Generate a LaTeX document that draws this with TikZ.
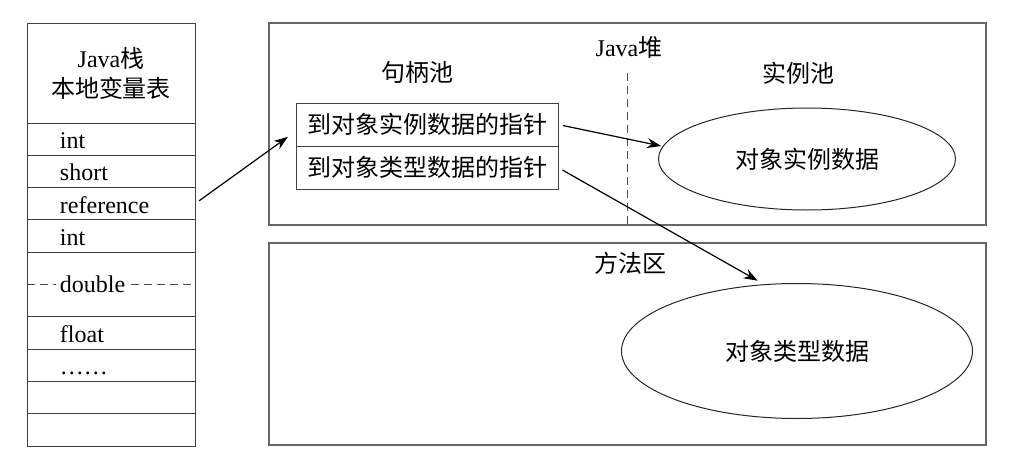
\documentclass[tikz,border=0pt]{standalone}
\usepackage{fontspec}
\setmainfont{Liberation Serif}
\newfontfamily\cjk{Noto Sans CJK SC}
\usetikzlibrary{positioning,shapes.geometric,arrows.meta}
\begin{document}
\begin{tikzpicture}[x=0.5pt, y=-0.5pt, font=\fontsize{12}{15}\selectfont,
  every node/.style={outer sep=0pt},
  head/.style={draw=black!75, line width=0.5pt, minimum width=84pt, minimum height=50pt, align=center, inner sep=0pt},
  cell/.style={draw=black!75, line width=0.5pt, minimum width=84pt, minimum height=16.15pt, text width=51pt, inner xsep=16.5pt, inner ysep=0pt, align=left, text height=9.5pt, text depth=0pt},
  slot/.style={draw=black!75, line width=0.5pt, minimum width=131pt, minimum height=21.5pt, inner sep=0pt},
  area/.style={draw=black!60, line width=0.6pt, minimum width=358.5pt, minimum height=101pt, inner sep=0pt},
  blob/.style={draw=black!85, ellipse, line width=0.5pt, inner sep=0pt},
  ptr/.style={line width=0.6pt, -{Stealth[length=7pt, width=5pt]}},
  cut/.style={black!70, line width=0.5pt, dash pattern=on 4pt off 2.5pt}]

\useasboundingbox (0,0) rectangle (1035,466);

%Java stack with local variable table
\node [head] (head) at (111,73) {Java{\cjk 栈}\\{\cjk 本地变量表}};
\node [cell, below=0pt of head] (r1) {int};
\node [cell, below=0pt of r1] (r2) {short};
\node [cell, below=0pt of r2] (r3) {reference};
\node [cell, below=0pt of r3] (r4) {int};
\node [cell, below=0pt of r4, minimum height=32.3pt] (r5) {};
\node [cell, below=0pt of r5] (r6) {float};
\node [cell, below=0pt of r6] (r7) {……};
\node [cell, below=0pt of r7] (r8) {};
\node [cell, below=0pt of r8] (r9) {};

%double takes two slots
\draw [cut] (r5.west) -- (r5.east);
\node [fill=white, inner xsep=2pt, inner ysep=1pt, right=14.5pt of r5.west] (dbl) {double};

%Java heap
\node [area] (heap) at (627.5,124) {};
\node (heaplbl) at (629,47) {Java{\cjk 堆}};
\node (handlelbl) at (417,72) {\cjk 句柄池};
\node (instlbl) at (798,73) {\cjk 实例池};

\coordinate (cuttop) at (627,73);
\draw [cut] (cuttop) -- (cuttop |- heap.south);

%handle pool
\node [slot] (instptr) at (427,124.5) {\cjk 到对象实例数据的指针};
\node [slot, below=0pt of instptr] (typeptr) {\cjk 到对象类型数据的指针};

%instance pool
\node [blob, minimum width=148.5pt, minimum height=51pt] (inst) at (807,159) {\cjk 对象实例数据};

%method area
\node [area] (method) at (627.5,344) {};
\node (methodlbl) at (630,263) {\cjk 方法区};
\node [blob, minimum width=175.5pt, minimum height=67.5pt] (type) at (797,351) {\cjk 对象类型数据};

%pointers
\draw [ptr, shorten <=2.5pt, shorten >=5pt] (r3.east) -- ([yshift=-3.25pt]instptr.west);
\draw [ptr, shorten <=2.5pt, shorten >=1pt] (instptr.east) -- (inst.175);
\draw [ptr, shorten <=2.5pt, shorten >=4pt] (typeptr.east) -- (type.116);

\end{tikzpicture}
\end{document}
